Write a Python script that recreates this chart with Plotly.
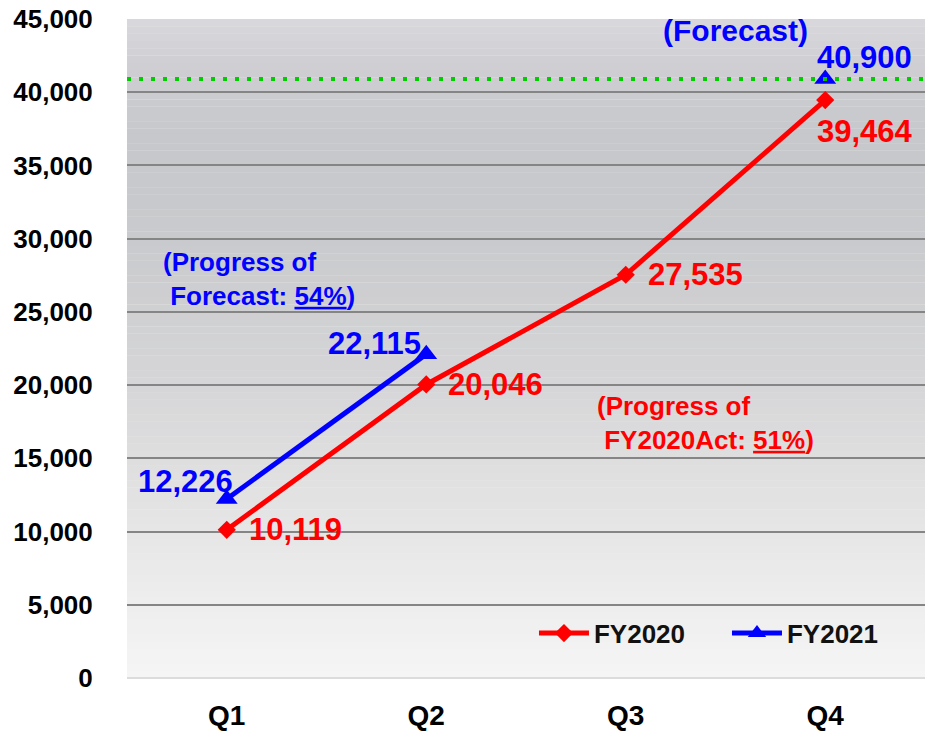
import plotly.graph_objects as go

# Quarterly cumulative figures
quarters = ["Q1", "Q2", "Q3", "Q4"]
fy2020 = [10119, 20046, 27535, 39464]
fy2021 = [12226, 22115, None, 40900]
forecast_value = 40900
y_ticks = [0, 5000, 10000, 15000, 20000, 25000, 30000, 35000, 40000, 45000]

FONT = "Liberation Sans, Arial, sans-serif"
RED = "#ff0000"
BLUE = "#0000ff"

fig = go.Figure()

fig.add_trace(go.Scatter(
    x=quarters, y=fy2020, name="FY2020", mode="lines+markers",
    line=dict(color=RED, width=5),
    marker=dict(symbol="diamond", size=14, color=RED),
))
fig.add_trace(go.Scatter(
    x=quarters, y=fy2021, name="FY2021", mode="lines+markers",
    connectgaps=False,
    line=dict(color=BLUE, width=5),
    marker=dict(symbol="triangle-up", size=19, color=BLUE),
))

# Vertical gray gradient behind the plot area, built from thin bands
stops = [(0, (245, 245, 245)), (5000, (238, 238, 238)), (10000, (230, 230, 230)),
         (20000, (214, 214, 216)), (30000, (201, 202, 205)), (37000, (198, 200, 203)),
         (42000, (207, 207, 211)), (45000, (217, 217, 221))]


def band_color(v):
    for (a, ca), (b, cb) in zip(stops[:-1], stops[1:]):
        if a <= v <= b:
            t = (v - a) / (b - a)
            c = [round(ca[i] + (cb[i] - ca[i]) * t) for i in range(3)]
            return "rgb(%d,%d,%d)" % tuple(c)
    return "rgb(%d,%d,%d)" % stops[-1][1]


n_bands = 90
step = 45000 / n_bands
shapes = []
for i in range(n_bands):
    y0 = i * step
    shapes.append(dict(type="rect", xref="paper", yref="y", x0=0, x1=1,
                       y0=y0, y1=y0 + step + 10, line=dict(width=0),
                       fillcolor=band_color(y0 + step / 2), layer="below"))

# Forecast reference line (dotted, drawn over the markers)
shapes.append(dict(type="line", xref="paper", yref="y", x0=0, x1=1,
                   y0=forecast_value, y1=forecast_value,
                   line=dict(color="#00cc00", width=4, dash="4px,8px"),
                   layer="above"))

annotations = []


def value_label(x, y, color, xanchor, xshift, yshift):
    annotations.append(dict(
        x=x, y=y, xref="x", yref="y", text=f"{y:,}", showarrow=False,
        xanchor=xanchor, yanchor="middle", xshift=xshift, yshift=yshift,
        font=dict(family=FONT, size=31, color=color, weight="bold"),
    ))


# FY2020 labels
value_label(quarters[0], fy2020[0], RED, "left", 20, 0)
value_label(quarters[1], fy2020[1], RED, "left", 20, 0)
value_label(quarters[2], fy2020[2], RED, "left", 20, 0)
value_label(quarters[3], fy2020[3], RED, "left", -10, -31)

# FY2021 labels
value_label(quarters[0], fy2021[0], BLUE, "right", 8, 17)
value_label(quarters[1], fy2021[1], BLUE, "right", -3, 11)
value_label(quarters[3], fy2021[3], BLUE, "left", -10, 22)

annotations.append(dict(
    x=quarters[3], y=forecast_value, xref="x", yref="y", text="(Forecast)",
    showarrow=False, xanchor="center", yanchor="middle", xshift=-90, yshift=49,
    font=dict(family=FONT, size=30, color=BLUE, weight="bold"),
))

nb = "\u00a0"
annotations.append(dict(
    x=0.042, y=0.605, xref="paper", yref="paper",
    text=f"(Progress of<br>{nb}Forecast: <u>54%</u>)", align="left",
    showarrow=False, xanchor="left", yanchor="middle",
    font=dict(family=FONT, size=26, color=BLUE, weight="bold"),
))
annotations.append(dict(
    x=0.587, y=0.387, xref="paper", yref="paper",
    text=f"(Progress of<br>{nb}FY2020Act: <u>51%</u>)", align="left",
    showarrow=False, xanchor="left", yanchor="middle",
    font=dict(family=FONT, size=26, color=RED, weight="bold"),
))

fig.update_layout(
    width=928, height=732,
    margin=dict(l=127, r=3, t=19, b=54, autoexpand=False),
    paper_bgcolor="white",
    plot_bgcolor="#f0f0f0",
    shapes=shapes,
    annotations=annotations,
    showlegend=True,
    legend=dict(
        orientation="h", x=0.51, y=0.068, xanchor="left", yanchor="middle",
        bgcolor="rgba(0,0,0,0)", itemwidth=50, tracegroupgap=0,
        entrywidth=128, entrywidthmode="pixels",
        font=dict(family=FONT, size=26, color="#111111", weight="bold"),
    ),
    xaxis=dict(
        type="category", range=[-0.5, 3.5], showgrid=False, showline=False,
        zeroline=False, ticks="outside", ticklen=12, tickcolor="rgba(0,0,0,0)",
        automargin=False,
        tickfont=dict(family=FONT, size=28, color="black", weight="bold"),
    ),
    yaxis=dict(
        range=[0, 45000], tickvals=y_ticks,
        ticktext=[f"{v:,}" for v in y_ticks],
        showgrid=True, gridcolor="#858585", gridwidth=1.5,
        zeroline=True, zerolinecolor="#dcdcdc", zerolinewidth=2,
        showline=False, ticks="outside", ticklen=28, tickcolor="rgba(0,0,0,0)",
        automargin=False,
        tickfont=dict(family=FONT, size=26, color="black", weight="bold"),
    ),
)

fig.write_html("out.html")
